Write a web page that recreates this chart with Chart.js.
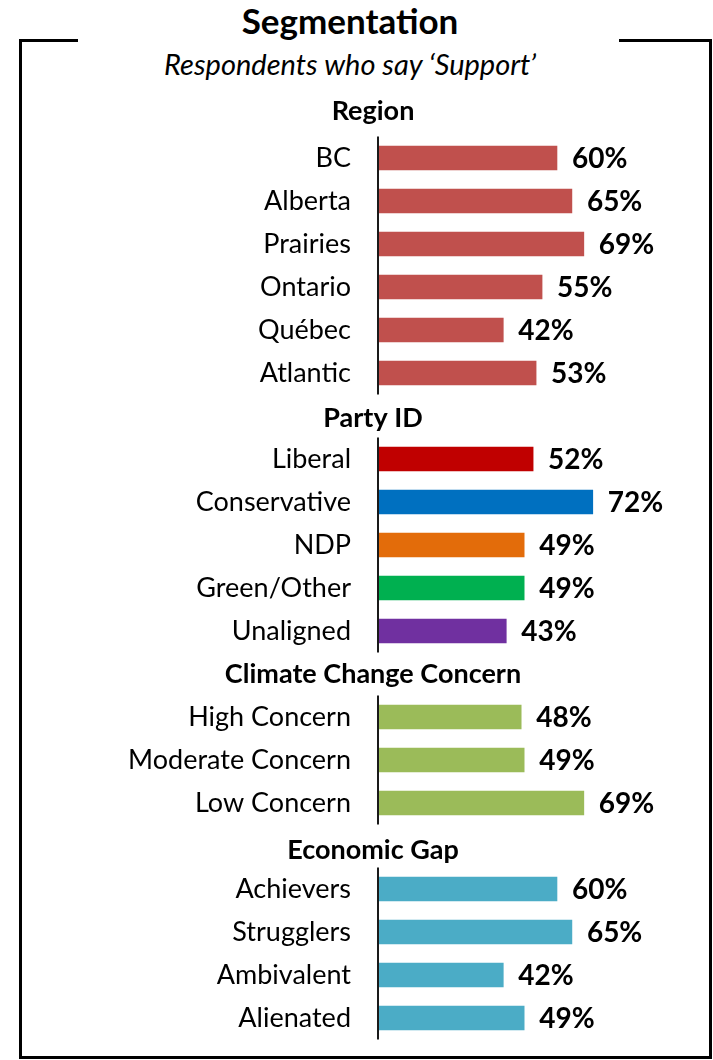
<!DOCTYPE html>
<html><head><meta charset="utf-8">
<script src="https://cdn.jsdelivr.net/npm/chart.js@4.4.0/dist/chart.umd.min.js"></script>
<style>
html,body{margin:0;padding:0;background:#fff;}
#wrap{position:relative;width:713px;height:1060px;overflow:hidden;background:#fff;}
#c{position:absolute;left:0;top:0;}
.t{position:absolute;left:0;width:700px;text-align:center;color:#000;white-space:nowrap;line-height:1;}
#title{top:-1px;font:bold 35px Lato,sans-serif;}
#sub{top:46px;font:italic 29px Lato,sans-serif;}
.fr{position:absolute;background:#000;}
</style></head>
<body><div id="wrap">
<div class="fr" style="left:19px;top:39px;width:59px;height:3px"></div>
<div class="fr" style="left:619px;top:39px;width:93px;height:3px"></div>
<div class="fr" style="left:19px;top:39px;width:3px;height:1020px"></div>
<div class="fr" style="left:709px;top:39px;width:3px;height:1020px"></div>
<div class="fr" style="left:19px;top:1056px;width:693px;height:3px"></div>
<div class="t" id="title">Segmentation</div>
<div class="t" id="sub">Respondents who say ‘Support’</div>
<canvas id="c" width="713" height="1060"></canvas>
</div>
<script>
// ---- data ----
const categories = ['Region','BC','Alberta','Prairies','Ontario','Québec','Atlantic',
  'Party ID','Liberal','Conservative','NDP','Green/Other','Unaligned',
  'Climate Change Concern','High Concern','Moderate Concern','Low Concern',
  'Economic Gap','Achievers','Strugglers','Ambivalent','Alienated'];
const headers = ['Region','Party ID','Climate Change Concern','Economic Gap'];
const support = [null,60,65,69,55,42,53,
  null,52,72,49,49,43,
  null,48,49,69,
  null,60,65,42,49];

// ---- styles ----
const groupColor = {'Region':'#C0504D','Climate Change Concern':'#9BBB59','Economic Gap':'#4BACC6'};
const partyColor = {'Liberal':'#C00000','Conservative':'#0070C0','NDP':'#E36C0A','Green/Other':'#00B050','Unaligned':'#7030A0'};
const headerNudge = {'Region':-4,'Party ID':2,'Climate Change Concern':0,'Economic Gap':4};
let cur = null;
const barColors = categories.map(c => {
  if (headers.includes(c)) { cur = c; return 'rgba(0,0,0,0)'; }
  return partyColor[c] || groupColor[cur];
});

const FONT = 'Lato, sans-serif';

const extras = {
  id:'extras',
  afterDatasetsDraw(chart){
    const ctx = chart.ctx, y = chart.scales.y, x = chart.scales.x;
    const half = (y.getPixelForValue(1) - y.getPixelForValue(0)) / 2;
    const x0 = x.getPixelForValue(0);
    ctx.save();
    ctx.strokeStyle = '#1a1a1a'; ctx.lineWidth = 2;
    const hIdx = headers.map(h => categories.indexOf(h));
    hIdx.forEach((hi, k) => {
      const last = (k + 1 < hIdx.length ? hIdx[k+1] : categories.length) - 1;
      ctx.beginPath();
      ctx.moveTo(x0, y.getPixelForValue(hi + 1) - half);
      ctx.lineTo(x0, y.getPixelForValue(last) + half);
      ctx.stroke();
    });
    ctx.fillStyle = '#000'; ctx.textAlign = 'center'; ctx.textBaseline = 'middle';
    ctx.font = 'bold 27px ' + FONT;
    hIdx.forEach(hi => ctx.fillText(categories[hi], x0 - 5, y.getPixelForValue(hi) + (headerNudge[categories[hi]] || 0)));
    ctx.font = 'bold 28px ' + FONT; ctx.textAlign = 'left';
    const meta = chart.getDatasetMeta(0);
    meta.data.forEach((bar, i) => {
      if (support[i] == null) return;
      ctx.fillText(support[i] + '%', bar.x + 15, bar.y + 1);
    });
    ctx.restore();
  }
};

new Chart(document.getElementById('c'), {
  type:'bar',
  data:{ labels:categories, datasets:[{ data:support, backgroundColor:barColors, barThickness:24, borderWidth:0 }] },
  options:{
    indexAxis:'y', responsive:false, animation:false,
    layout:{ padding:{ top:93.5, bottom:20.5, right:36.7, left:0 } },
    plugins:{ legend:{display:false}, tooltip:{enabled:false}, title:{display:false} },
    scales:{
      x:{ display:false, min:0, max:100 },
      y:{
        grid:{ display:false, drawTicks:false }, border:{ display:false },
        afterFit(s){ s.width = 378; s.paddingTop = 0; s.paddingBottom = 0; },
        ticks:{ padding:27, color:'#000', font:{ family:FONT, size:27 },
          callback(v){ const l = categories[v]; return headers.includes(l) ? '' : l; } }
      }
    }
  },
  plugins:[extras]
});
</script>
</body></html>
